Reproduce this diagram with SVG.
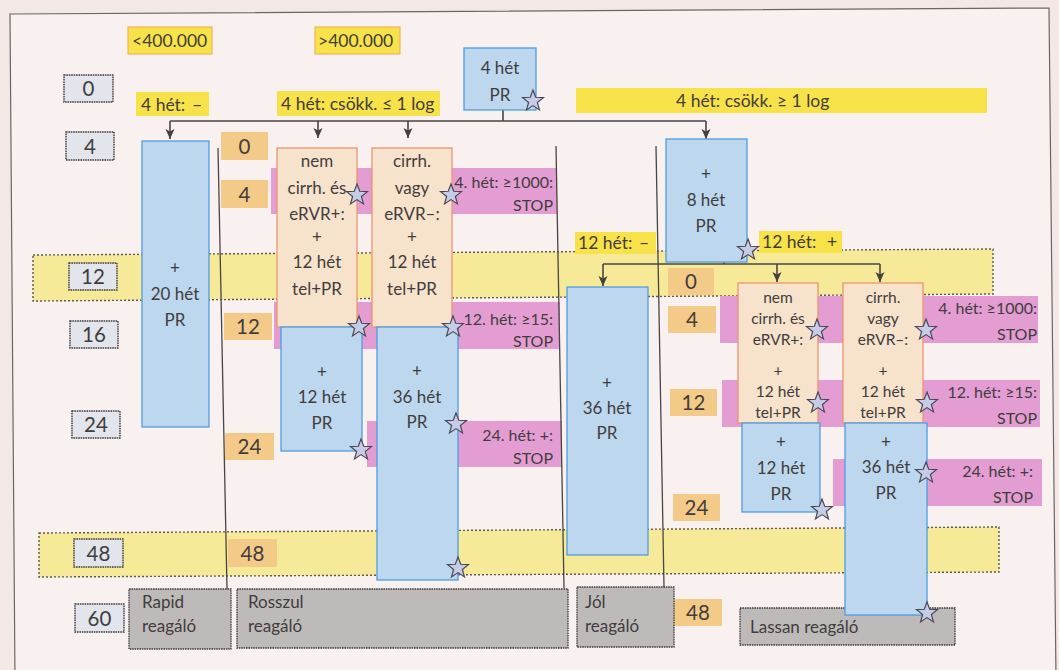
<svg xmlns="http://www.w3.org/2000/svg" width="1059" height="670" viewBox="0 0 1059 670">
<defs>
<style>
text{font-family:Lato,"Liberation Sans","DejaVu Sans",sans-serif;fill:#423d3d}
.c{text-anchor:middle}
.r{text-anchor:end}
.bx{font-size:17px}
.bs{font-size:15.5px}
.nm{font-size:20.5px}
.lb{font-size:17.5px}
.pk{font-size:16px}
.blue{fill:#bdd7ee;stroke:#4f9de0;stroke-width:1.3}
.peach{fill:#f7e2cc;stroke:#ea9570;stroke-width:1.3}
.gnum{fill:#e2e5ec;stroke:#3f3b3b;stroke-width:1.4;stroke-dasharray:1.6 0.8}
.onum{fill:#f4ca88}
.yl{fill:#f8e24a}
.yo{fill:#f8e24a;stroke:#eeaa50;stroke-width:1}
.pink{fill:#e39dd3}
.band{fill:#f6ea98;stroke:#5d5753;stroke-width:1.4;stroke-dasharray:2 2}
.gray{fill:#bebaba;stroke:#403c3c;stroke-width:1.3;stroke-dasharray:1.6 0.8}
.vl{stroke:#4a4545;stroke-width:1.3;fill:none}
.cn{stroke:#4a4545;stroke-width:1.6;fill:none}
.star{fill:#c6cbe8;stroke:#4a4753;stroke-width:1.2}
</style>
<path id="st" d="M0,-11 L2.7,-3.72 L10.46,-3.4 L4.37,1.42 L6.47,8.9 L0,4.6 L-6.47,8.9 L-4.37,1.42 L-10.46,-3.4 L-2.7,-3.72 Z"/>
<marker id="ar" viewBox="0 0 10 10" refX="10" refY="5" markerWidth="10" markerHeight="10" markerUnits="userSpaceOnUse" orient="auto">
<path d="M0,0.5 L10,5 L0,9.5 L2.5,5 Z" fill="#454040"/>
</marker>
</defs>

<rect width="1059" height="670" fill="#f3e8e6"/>
<polygon points="10,14 1049,8 1056,680 15,680" fill="#f9f1ef" stroke="#6b6666" stroke-width="1.2"/>

<g id="bands">
<polygon class="band" points="33,255 993,249 993,294 33,301"/>
<polygon class="band" points="39,533 999,527 999,572 39,577"/>
</g>

<g id="stop-rules">
<rect class="pink" x="271" y="168" width="286" height="46"/>
<rect class="pink" x="274" y="302" width="286" height="47"/>
<rect class="pink" x="367" y="421" width="195" height="46"/>
<rect class="pink" x="720" y="296" width="318" height="47"/>
<rect class="pink" x="722" y="380" width="318" height="47"/>
<rect class="pink" x="833" y="459" width="209" height="47"/>
<text class="pk r" x="553" y="188">4. hét: ≥1000:</text>
<text class="pk r" x="553" y="211">STOP</text>
<text class="pk r" x="553" y="325">12. hét: ≥15:</text>
<text class="pk r" x="553" y="347">STOP</text>
<text class="pk r" x="553" y="441">24. hét: +:</text>
<text class="pk r" x="553" y="464">STOP</text>
<text class="pk r" x="1037" y="314">4. hét: ≥1000:</text>
<text class="pk r" x="1037" y="340">STOP</text>
<text class="pk r" x="1037" y="398">12. hét: ≥15:</text>
<text class="pk r" x="1037" y="424">STOP</text>
<text class="pk r" x="1033" y="477">24. hét: +:</text>
<text class="pk r" x="1033" y="503">STOP</text>
</g>

<g id="dividers">
<line class="vl" x1="218" y1="148" x2="227" y2="589"/>
<line class="vl" x1="556" y1="146" x2="564" y2="588"/>
<line class="vl" x1="656" y1="146" x2="664" y2="587"/>
</g>

<g id="week-scale">
<rect class="gnum" x="64" y="75" width="49" height="27"/><text class="nm c" x="88.5" y="96">0</text>
<rect class="gnum" x="66" y="132" width="48" height="28"/><text class="nm c" x="90" y="153.5">4</text>
<rect class="gnum" x="69" y="263" width="48" height="27"/><text class="nm c" x="93" y="284">12</text>
<rect class="gnum" x="70" y="321" width="48" height="27"/><text class="nm c" x="94" y="342">16</text>
<rect class="gnum" x="72" y="411" width="48" height="27"/><text class="nm c" x="96" y="432">24</text>
<rect class="gnum" x="74" y="539" width="49" height="28"/><text class="nm c" x="98.5" y="560.5">48</text>
<rect class="gnum" x="75" y="604" width="49" height="28"/><text class="nm c" x="99.5" y="625.5">60</text>
</g>

<g id="week-scale-left">
<rect class="onum" x="221" y="132" width="47" height="28"/><text class="nm c" x="244.5" y="153.5">0</text>
<rect class="onum" x="221" y="180" width="47" height="28"/><text class="nm c" x="244.5" y="201.5">4</text>
<rect class="onum" x="224" y="313" width="48" height="27"/><text class="nm c" x="248" y="334">12</text>
<rect class="onum" x="225" y="433" width="49" height="27"/><text class="nm c" x="249.5" y="454">24</text>
<rect class="onum" x="228" y="539" width="49" height="28"/><text class="nm c" x="252.5" y="560.5">48</text>
</g>

<g id="week-scale-right">
<rect class="onum" x="668" y="268" width="46" height="27"/><text class="nm c" x="691" y="289">0</text>
<rect class="onum" x="668" y="306" width="48" height="27"/><text class="nm c" x="692" y="327">4</text>
<rect class="onum" x="670" y="389" width="47" height="27"/><text class="nm c" x="693.5" y="410">12</text>
<rect class="onum" x="673" y="494" width="47" height="27"/><text class="nm c" x="696.5" y="515">24</text>
<rect class="onum" x="674" y="599" width="48" height="27"/><text class="nm c" x="698" y="620">48</text>
</g>

<g id="labels">
<rect class="yo" x="128" y="27" width="84" height="27"/><text class="lb" x="132" y="46.5">&lt;400.000</text>
<rect class="yo" x="315" y="27" width="85" height="27"/><text class="lb" x="318" y="46.5">&gt;400.000</text>
<rect class="yl" x="136" y="92" width="73" height="24"/><text class="lb" x="141" y="110.5">4 hét:<tspan x="192">–</tspan></text>
<rect class="yl" x="277" y="91" width="163" height="25"/><text class="lb" x="281" y="110">4 hét: csökk. ≤ 1 log</text>
<rect class="yl" x="576" y="88" width="411" height="25"/><text class="lb" x="676" y="107">4 hét: csökk. ≥ 1 log</text>
<rect class="yl" x="575" y="232" width="81" height="22"/><text class="lb" x="578" y="249">12 hét:<tspan x="639">–</tspan></text>
<rect class="yl" x="759" y="231" width="83" height="22"/><text class="lb" x="762" y="248">12 hét:<tspan x="827">+</tspan></text>
</g>

<g id="connectors">
<path class="cn" d="M503,110 V121 M170,121 H706"/>
<path class="cn" d="M170,121 V139" marker-end="url(#ar)"/>
<path class="cn" d="M318,121 V138" marker-end="url(#ar)"/>
<path class="cn" d="M408,121 V138" marker-end="url(#ar)"/>
<path class="cn" d="M706,121 V139" marker-end="url(#ar)"/>
<path class="cn" d="M724,262 V264 M603,264 H880"/>
<path class="cn" d="M603,264 V286" marker-end="url(#ar)"/>
<path class="cn" d="M777,264 V282" marker-end="url(#ar)"/>
<path class="cn" d="M880,264 V282" marker-end="url(#ar)"/>
</g>

<g id="n-4het-pr">
<rect class="blue" x="464" y="48" width="72" height="62"/>
<text class="bx c" x="500" y="74">4 hét</text>
<text class="bx c" x="500" y="101">PR</text>
</g>

<g id="n-rapid-20het">
<rect class="blue" x="142" y="141" width="67" height="286"/>
<text class="bx c" x="175" y="274">+</text>
<text class="bx c" x="175" y="300">20 hét</text>
<text class="bx c" x="175" y="326">PR</text>
</g>

<g id="n-rossz-nemcirrh">
<rect class="peach" x="277" y="148" width="80" height="179"/>
<text class="bx c" x="317" y="167">nem</text>
<text class="bx c" x="317" y="194">cirrh. és</text>
<text class="bx c" x="317" y="220">eRVR+:</text>
<text class="bx c" x="317" y="243">+</text>
<text class="bx c" x="317" y="268">12 hét</text>
<text class="bx c" x="317" y="295">tel+PR</text>
</g>

<g id="n-rossz-cirrh">
<rect class="peach" x="372" y="148" width="80" height="179"/>
<text class="bx c" x="412" y="167">cirrh.</text>
<text class="bx c" x="412" y="194">vagy</text>
<text class="bx c" x="412" y="220">eRVR–:</text>
<text class="bx c" x="412" y="243">+</text>
<text class="bx c" x="412" y="268">12 hét</text>
<text class="bx c" x="412" y="295">tel+PR</text>
</g>

<g id="n-rossz-12het">
<rect class="blue" x="281" y="327" width="81" height="124"/>
<text class="bx c" x="322" y="378">+</text>
<text class="bx c" x="322" y="403">12 hét</text>
<text class="bx c" x="322" y="429">PR</text>
</g>

<g id="n-rossz-36het">
<rect class="blue" x="377" y="327" width="81" height="253"/>
<text class="bx c" x="417" y="377">+</text>
<text class="bx c" x="417" y="403">36 hét</text>
<text class="bx c" x="417" y="428">PR</text>
</g>

<g id="n-8het">
<rect class="blue" x="666" y="139" width="81" height="123"/>
<text class="bx c" x="706" y="180">+</text>
<text class="bx c" x="706" y="206">8 hét</text>
<text class="bx c" x="706" y="232">PR</text>
</g>

<g id="n-jol-36het">
<rect class="blue" x="567" y="287" width="81" height="268"/>
<text class="bx c" x="607" y="389">+</text>
<text class="bx c" x="607" y="414">36 hét</text>
<text class="bx c" x="607" y="439">PR</text>
</g>

<g id="n-lassan-nemcirrh">
<rect class="peach" x="738" y="283" width="80" height="140"/>
<text class="bs c" x="778" y="303">nem</text>
<text class="bs c" x="778" y="324">cirrh. és</text>
<text class="bs c" x="778" y="345">eRVR+:</text>
<text class="bs c" x="778" y="376">+</text>
<text class="bs c" x="778" y="397">12 hét</text>
<text class="bs c" x="778" y="418">tel+PR</text>
</g>

<g id="n-lassan-cirrh">
<rect class="peach" x="843" y="283" width="80" height="140"/>
<text class="bs c" x="883" y="303">cirrh.</text>
<text class="bs c" x="883" y="324">vagy</text>
<text class="bs c" x="883" y="345">eRVR–:</text>
<text class="bs c" x="883" y="376">+</text>
<text class="bs c" x="883" y="397">12 hét</text>
<text class="bs c" x="883" y="418">tel+PR</text>
</g>

<g id="n-lassan-12het">
<rect class="blue" x="742" y="423" width="78" height="89"/>
<text class="bx c" x="781" y="448">+</text>
<text class="bx c" x="781" y="474">12 hét</text>
<text class="bx c" x="781" y="500">PR</text>
</g>

<g id="n-rapid">
<rect class="gray" x="129" y="589" width="102" height="60"/>
<text class="bx" x="142" y="608">Rapid</text>
<text class="bx" x="142" y="632">reagáló</text>
</g>

<g id="n-rosszul">
<rect class="gray" x="237" y="589" width="331" height="59"/>
<text class="bx" x="248" y="608">Rosszul</text>
<text class="bx" x="248" y="632">reagáló</text>
</g>

<g id="n-jol">
<rect class="gray" x="577" y="587" width="97" height="60"/>
<text class="bx" x="585" y="608">Jól</text>
<text class="bx" x="585" y="632">reagáló</text>
</g>

<g id="n-lassan">
<rect class="gray" x="740" y="608" width="215" height="37"/>
<text class="bx" x="750" y="633">Lassan reagáló</text>
</g>

<g id="n-lassan-36het">
<rect class="blue" x="845" y="423" width="82" height="192"/>
<text class="bx c" x="886" y="448">+</text>
<text class="bx c" x="886" y="473">36 hét</text>
<text class="bx c" x="886" y="499">PR</text>
</g>

<g id="stars">
<use href="#st" class="star" x="533" y="101"/>
<use href="#st" class="star" x="357" y="195"/>
<use href="#st" class="star" x="359" y="327"/>
<use href="#st" class="star" x="451" y="195"/>
<use href="#st" class="star" x="453" y="327"/>
<use href="#st" class="star" x="361" y="450"/>
<use href="#st" class="star" x="456" y="424"/>
<use href="#st" class="star" x="458" y="568"/>
<use href="#st" class="star" x="748" y="250"/>
<use href="#st" class="star" x="817" y="330"/>
<use href="#st" class="star" x="818" y="403"/>
<use href="#st" class="star" x="926" y="330"/>
<use href="#st" class="star" x="927" y="403"/>
<use href="#st" class="star" x="822" y="510"/>
<use href="#st" class="star" x="926" y="473"/>
<use href="#st" class="star" x="927" y="613"/>
</g>
</svg>
